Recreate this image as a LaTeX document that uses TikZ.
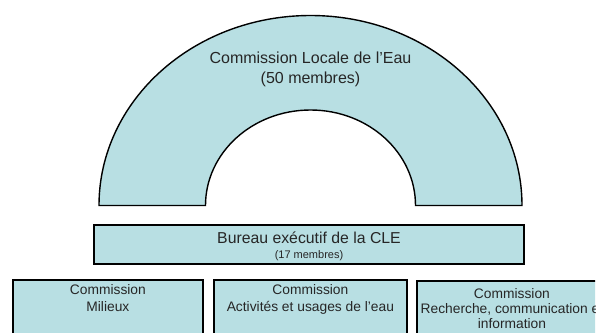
\documentclass[tikz,border=0pt]{standalone}
\usepackage{fontspec}
\setmainfont{Liberation Sans}
\definecolor{paleblue}{RGB}{184,223,227}
\tikzset{
  shapeline/.style={draw=black, fill=paleblue, line width=1.4pt},
  boxline/.style={draw=black, fill=paleblue, line width=1.8pt, rectangle, inner sep=0pt},
  txt/.style={align=center, inner sep=0pt, text=black!85},
}
\begin{document}
\begin{tikzpicture}[x=1pt,y=-1pt]
\useasboundingbox (0,0) rectangle (597,332);
\clip (0,0) rectangle (595,332);
% arch
\draw[shapeline] (99,205.5) arc[start angle=180, end angle=0, x radius=211.5pt, y radius=190pt]
  -- (415.5,205.5) arc[start angle=0, end angle=180, x radius=105pt, y radius=95.5pt] -- cycle;
\node[txt, font=\fontsize{16}{20}\selectfont] (cle) at (310.5,69) {Commission Locale de l’Eau\\(50 membres)};
% bureau
\node[boxline, minimum width=430pt, minimum height=39pt] (bureau) at (309,244.5) {};
\node[txt, font=\fontsize{15.8}{16}\selectfont, anchor=base] (bureautxt) at (309,243.5) {Bureau exécutif de la CLE};
\node[txt, font=\fontsize{11}{12}\selectfont, anchor=base] (bureaumb) at (309,258) {(17 membres)};
% commission boxes
\node[boxline, minimum width=190pt, minimum height=80pt, anchor=north west] (c1) at (12,279) {};
\node[boxline, minimum width=193pt, minimum height=80pt, anchor=north west] (c2) at (213,279) {};
\node[boxline, minimum width=190pt, minimum height=80pt, anchor=north west] (c3) at (416,280) {};
\node[txt, font=\fontsize{13.8}{17}\selectfont, anchor=north] (c1txt) at ([yshift=-5.5pt]c1.north) {Commission\\Milieux};
\node[txt, font=\fontsize{13.8}{17}\selectfont, anchor=north] (c2txt) at ([yshift=-5.5pt]c2.north) {Commission\\Activités et usages de l’eau};
\node[txt, font=\fontsize{13.8}{15}\selectfont, anchor=north] (c3txt) at ([yshift=-8.5pt]c3.north) {Commission\\Recherche, communication et\\information};
\end{tikzpicture}
\end{document}
